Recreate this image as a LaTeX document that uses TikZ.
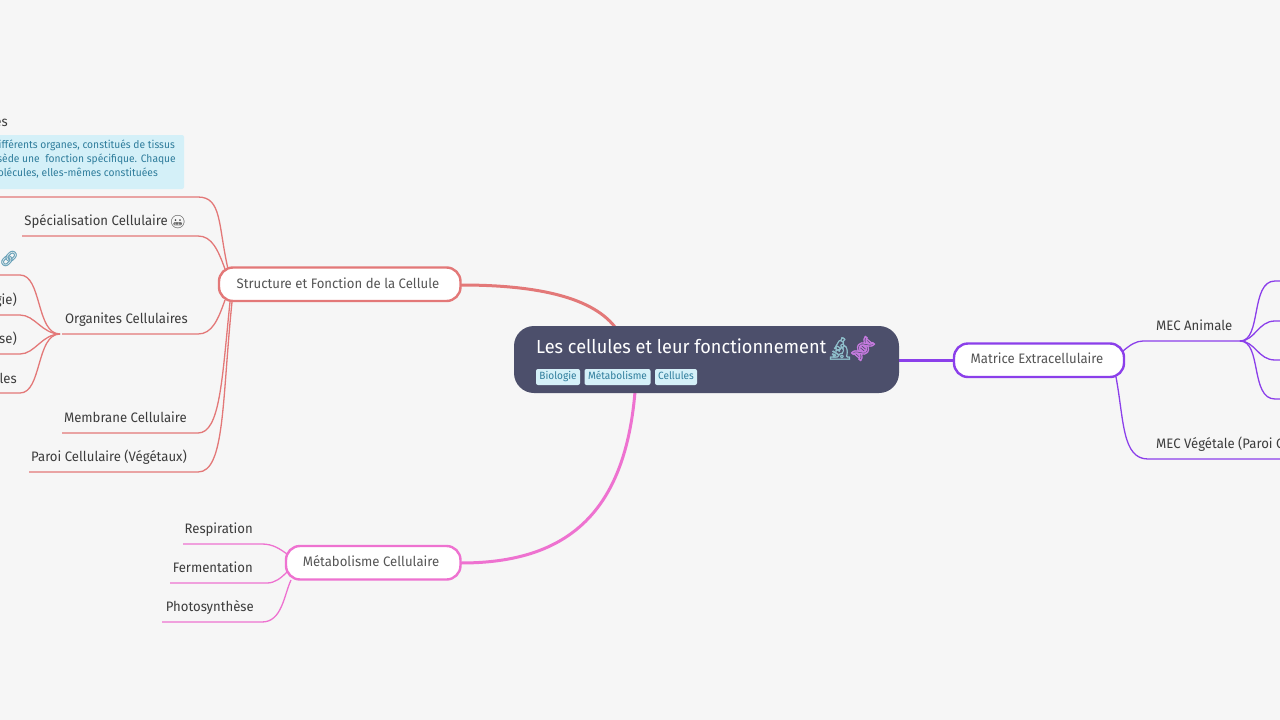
\documentclass[tikz,border=0pt]{standalone}
\usepackage{fontspec}
\setmainfont[FakeStretch=0.96]{Fira Sans}
\newfontfamily\emo{Noto Emoji}
\newfontfamily\emob[FakeBold=1.5]{Noto Emoji}
\definecolor{bg}{HTML}{F6F6F6}
\definecolor{cred}{HTML}{E37878}
\definecolor{cpink}{HTML}{EE72D0}
\definecolor{cpurple}{HTML}{8B3FEA}
\definecolor{cdark}{HTML}{4C4F6B}
\definecolor{tagbg}{HTML}{D4F0F8}
\definecolor{tagfg}{HTML}{2F7D9C}
\definecolor{txt}{HTML}{3C3C3C}
\definecolor{hubtxt}{HTML}{555555}
\definecolor{micc}{HTML}{8FC0CC}
\definecolor{dnac}{HTML}{C77BE0}
\tikzset{
 x=1pt,y=-1pt,
 hubbox/.style={draw,line width=2.4pt,fill=white,rounded corners=14pt,inner sep=0pt,outer sep=0pt,anchor=north west,text=hubtxt,font=\fontsize{13.7}{16}\selectfont},
 leaf/.style={inner sep=0pt,text=txt,font=\fontsize{13.7}{16}\selectfont},
 tag/.style={fill=tagbg,rounded corners=2pt,inner sep=0pt,minimum height=16pt,text height=7.6pt,text depth=2.4pt,text=tagfg,font=\fontsize{10.5}{13}\selectfont},
 notetxt/.style={inner sep=0pt,anchor=base east,text=tagfg,font=\fontsize{10.7}{13}\selectfont},
 main/.style={line width=3pt},
 sub/.style={line width=1.3pt},
}
\begin{document}
\begin{tikzpicture}
\useasboundingbox (0,0) rectangle (1280,720);
\fill[bg] (0,0) rectangle (1280,720);
% free ends
\coordinate (a0) at (0,197);\coordinate (a1) at (22,236);\coordinate (a2) at (62,334);\coordinate (a3) at (62,433);\coordinate (a4) at (29,472);
\coordinate (o1) at (0,275);\coordinate (o2) at (0,315);\coordinate (o3) at (0,354);\coordinate (o4) at (0,393);
\coordinate (m1) at (1143,341);\coordinate (m2) at (1280,459);
\coordinate (n1) at (1280,281);\coordinate (n2) at (1280,321);\coordinate (n3) at (1280,360);\coordinate (n4) at (1280,399);
\coordinate (p1) at (183,544);\coordinate (p2) at (170,583);\coordinate (p3) at (162,622);
% connectors
\draw[main,cred] (461,285) .. controls (530,285) and (590,295) .. (615,327);
\draw[main,cpink] (461,563) .. controls (570,563) and (625,510) .. (635,392);
\draw[main,cpurple] (898,360) -- (954,360);
\draw[sub,cred] (a0) -- (198,197) .. controls (222,197) and (218,225) .. (228,269);
\draw[sub,cred] (a1) -- (198,236) .. controls (212,236) and (218,250) .. (225,269);
\draw[sub,cred] (a2) -- (198,334) .. controls (212,334) and (218,320) .. (225,300);
\draw[sub,cred] (a3) -- (198,433) .. controls (220,433) and (222,380) .. (230,302);
\draw[sub,cred] (a4) -- (198,472) .. controls (225,472) and (222,400) .. (232,302);
\draw[sub,cred] (o1) -- (20,275) .. controls (42,275) and (36,334) .. (60,334);
\draw[sub,cred] (o2) -- (20,315) .. controls (35,315) and (42,334) .. (60,334);
\draw[sub,cred] (o3) -- (20,354) .. controls (35,354) and (42,334) .. (60,334);
\draw[sub,cred] (o4) -- (20,393) .. controls (42,393) and (36,334) .. (60,334);
\draw[sub,cpurple] (1123,351) .. controls (1130,345) and (1136,341) .. (m1) -- (1240,341);
\draw[sub,cpurple] (1116,377) .. controls (1124,420) and (1122,459) .. (1148,459) -- (m2);
\draw[sub,cpurple] (1240,341) .. controls (1262,341) and (1250,281) .. (1275,281) -- (n1);
\draw[sub,cpurple] (1240,341) .. controls (1255,341) and (1258,321) .. (1275,321) -- (n2);
\draw[sub,cpurple] (1240,341) .. controls (1255,341) and (1258,360) .. (1275,360) -- (n3);
\draw[sub,cpurple] (1240,341) .. controls (1262,341) and (1250,399) .. (1275,399) -- (n4);
\draw[sub,cpink] (p1) -- (262,544) .. controls (273,544) and (280,549) .. (287,554);
\draw[sub,cpink] (p2) -- (267,583) .. controls (275,583) and (281,578) .. (287,572);
\draw[sub,cpink] (p3) -- (262,622) .. controls (282,622) and (284,595) .. (291,580);
% hubs
\node[hubbox,draw=cred,minimum width=241.5pt,minimum height=33.5pt] (structure) at (219,267.5) {};
\node[leaf,text=hubtxt] (structure-t) at (338,283) {Structure et Fonction de la Cellule};
\node[hubbox,draw=cpurple,minimum width=170pt,minimum height=33.5pt] (matrice) at (954,343.5) {};
\node[leaf,text=hubtxt] (matrice-t) at (1037,358.5) {Matrice Extracellulaire};
\node[hubbox,draw=cpink,minimum width=174.5pt,minimum height=33.5pt] (metab) at (286,546) {};
\node[leaf,text=hubtxt] (metab-t) at (371,561.5) {Métabolisme Cellulaire};
\node[fill=cdark,rounded corners=20pt,minimum width=385pt,minimum height=67pt,inner sep=0pt,outer sep=0pt,anchor=north west] (root) at (514,326) {};
\node[inner sep=0pt,anchor=base west,text=white,font=\fontsize{18.9}{22}\selectfont] (title) at (536,353) {Les cellules et leur fonctionnement};
\node[inner sep=0pt,text=micc,font=\emob\fontsize{22}{24}\selectfont] (mic) at (840,348.5) {🔬};
\node[inner sep=0pt,rotate=-40,text=dnac,font=\emob\fontsize{22}{24}\selectfont] (dna) at (863,348.5) {🧬};
\node[tag,minimum width=44pt] (t1) at (558,377) {Biologie};
\node[tag,minimum width=66pt] (t2) at (617.5,377) {Métabolisme};
\node[tag,minimum width=42pt] (t3) at (676,377) {Cellules};
% note
\fill[tagbg,rounded corners=2pt] (-5,135) rectangle (184,189);
\node[notetxt] (n-a) at (175,148) {ifférents organes, constitués de tissus};
\node[notetxt] (n-b) at (176,162) {sède une\ \ fonction spécifique. Chaque};
\node[notetxt] (n-c) at (158,176) {olécules, elles-mêmes constituées};
% leaves
\node[leaf,anchor=base east] (l0) at (8,126) {es};
\node[leaf,anchor=base east] (l1) at (168,225) {Spécialisation Cellulaire};
\node[inner sep=0pt,text=txt,font=\emo\fontsize{13}{15}\selectfont] (l1e) at (178,222) {😬};
\node[inner sep=0pt,text=tagfg!70,font=\emob\fontsize{15}{17}\selectfont] (link) at (9,258.5) {🔗};
\node[leaf,anchor=base east] (l2) at (188,323) {Organites Cellulaires};
\node[leaf,anchor=base east] (l3) at (187,422) {Membrane Cellulaire};
\node[leaf,anchor=base east] (l4) at (187,461) {Paroi Cellulaire (Végétaux)};
\node[leaf,anchor=base east] (o-a) at (17,304) {gie)};
\node[leaf,anchor=base east] (o-b) at (17,343) {se)};
\node[leaf,anchor=base east] (o-c) at (17,383) {les};
\node[leaf,anchor=base west] (m-a) at (1156,330) {MEC Animale};
\node[leaf,anchor=base west] (m-b) at (1156,448) {MEC Végétale (Paroi C};
\node[leaf,anchor=base east] (p-a) at (253,533) {Respiration};
\node[leaf,anchor=base east] (p-b) at (253,572) {Fermentation};
\node[leaf,anchor=base east] (p-c) at (254,611) {Photosynthèse};
\end{tikzpicture}
\end{document}
